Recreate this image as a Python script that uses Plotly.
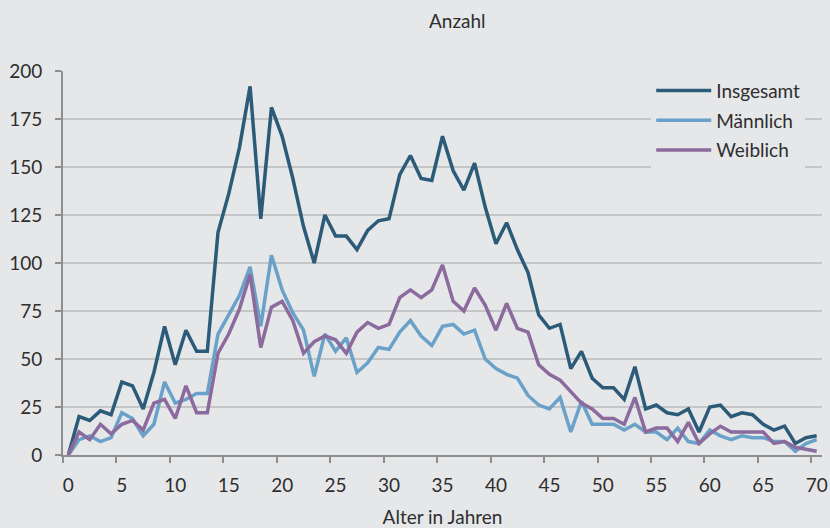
import plotly.graph_objects as go

alter = list(range(71))

insgesamt = [0, 20, 18, 23, 21, 38, 36, 24, 43, 67,
             47, 65, 54, 54, 116, 136, 160, 192, 123, 181,
             166, 144, 119, 100, 125, 114, 114, 107, 117, 122,
             123, 146, 156, 144, 143, 166, 148, 138, 152, 129,
             110, 121, 107, 95, 73, 66, 68, 45, 54, 40,
             35, 35, 29, 46, 24, 26, 22, 21, 24, 12,
             25, 26, 20, 22, 21, 16, 13, 15, 6, 9,
             10]

maennlich = [0, 8, 10, 7, 9, 22, 19, 10, 16, 38,
             27, 29, 32, 32, 63, 73, 83, 98, 67, 104,
             86, 74, 65, 41, 63, 54, 61, 43, 48, 56,
             55, 64, 70, 62, 57, 67, 68, 63, 65, 50,
             45, 42, 40, 31, 26, 24, 30, 12, 28, 16,
             16, 16, 13, 16, 12, 12, 8, 14, 7, 6,
             13, 10, 8, 10, 9, 9, 7, 7, 2, 6,
             8]

weiblich = [0, 12, 8, 16, 11, 16, 18, 13, 27, 29,
            19, 36, 22, 22, 53, 63, 76, 94, 56, 77,
            80, 70, 53, 59, 62, 60, 53, 64, 69, 66,
            68, 82, 86, 82, 86, 99, 80, 75, 87, 78,
            65, 79, 66, 64, 47, 42, 39, 33, 27, 24,
            19, 19, 16, 30, 12, 14, 14, 7, 17, 6,
            11, 15, 12, 12, 12, 12, 6, 7, 4, 3,
            2]

x_labels = list(range(0, 71, 5))
y_ticks = [0, 25, 50, 75, 100, 125, 150, 175, 200]

series = [
    ("Insgesamt", insgesamt, "#2b5b79"),
    ("Männlich", maennlich, "#6aa1c9"),
    ("Weiblich", weiblich, "#8b6a9d"),
]

BG = "#e6e7e9"
TXT = "#2e2e2e"
AX = "#8e8e8e"
FONT = "Lato"

fig = go.Figure()
for name, vals, col in series:
    fig.add_trace(go.Scatter(
        x=alter, y=vals, mode="lines", name=name, legendgroup=name,
        line=dict(color=col, width=3.5),
    ))

# category-style axis: labels at category centres, tick marks on the boundaries
boundaries = [v - 0.5 for v in x_labels]

fig.update_layout(
    width=830, height=528,
    margin=dict(l=63, r=8, t=71, b=73),
    paper_bgcolor=BG, plot_bgcolor=BG,
    font=dict(family=FONT, size=19, color=TXT),
    showlegend=True,
    legend=dict(
        x=0.775, y=0.998, xanchor="left", yanchor="top",
        bgcolor=BG, borderwidth=0,
        traceorder="grouped", tracegroupgap=2,
        font=dict(family=FONT, size=19, color=TXT),
        itemwidth=55,
    ),
    xaxis=dict(
        range=[alter[0] - 0.5, alter[-1] + 0.5],
        tickmode="array", tickvals=x_labels,
        tickangle=0, automargin=False,
        showgrid=False, zeroline=False,
        showline=True, linecolor=AX, linewidth=2,
        ticks="outside", ticklen=6, tickcolor="rgba(0,0,0,0)", tickwidth=1.5,
        minor=dict(tickmode="array", tickvals=boundaries, ticks="outside",
                   ticklen=6, tickcolor=AX, tickwidth=1.5, showgrid=False),
        ticklabelstandoff=6,
        title=dict(text="Alter in Jahren", standoff=24,
                   font=dict(family=FONT, size=19, color=TXT)),
        tickfont=dict(family=FONT, size=19, color=TXT),
    ),
    yaxis=dict(
        range=[0, 200], automargin=False,
        tickmode="array", tickvals=y_ticks,
        showgrid=True, gridcolor="#c5c6c8", gridwidth=1.5,
        zeroline=False,
        showline=True, linecolor=AX, linewidth=2,
        ticks="outside", ticklen=6, tickcolor=AX, tickwidth=1.5,
        ticklabelstandoff=9,
        tickfont=dict(family=FONT, size=19, color=TXT),
    ),
    annotations=[dict(
        text="Anzahl", xref="paper", yref="paper",
        x=0.52, y=1 + 51 / 384, xanchor="center", yanchor="middle",
        showarrow=False, font=dict(family=FONT, size=19, color=TXT),
    )],
)

fig.write_html(
    "out.html",
    config={"displayModeBar": False},
    post_script="document.body.style.margin='0';document.body.style.overflow='hidden';",
)
